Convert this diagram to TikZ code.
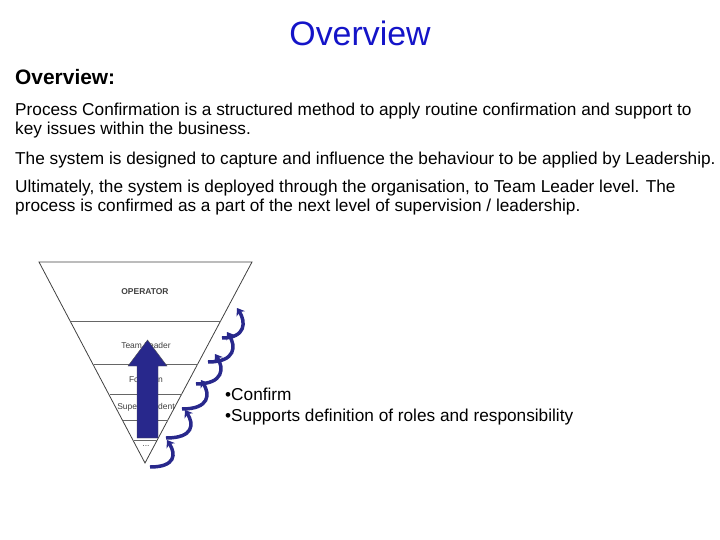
\documentclass[tikz,border=0pt]{standalone}
\usepackage{fontspec}
\setmainfont{Liberation Sans}
\usetikzlibrary{arrows.meta}
\definecolor{navy}{RGB}{40,40,140}
\definecolor{ttl}{RGB}{20,20,200}
\begin{document}
\begin{tikzpicture}[x=1bp,y=-1bp,
  body/.style={anchor=west,inner sep=0pt,font=\fontsize{17.3}{19}\selectfont,align=left},
  lvl/.style={inner sep=0pt,font=\fontsize{8.5}{9}\selectfont,text=black!75},
  curl/.style={navy,line width=3.5pt,-{Stealth[length=7pt,width=10pt]}}]
\useasboundingbox (0,0) rectangle (720,540);
\node[inner sep=0pt,text=ttl,font=\fontsize{34}{36}\selectfont] (title) at (360,33) {Overview};
\node[body,font=\bfseries\fontsize{21}{22}\selectfont] (h) at (15,77) {Overview:};
\node[body,anchor=north west] (p1) at (15,103) {Process Confirmation is a structured method to apply routine confirmation and support to\\key issues within the business.};
\node[body] (p2) at (15,160) {The system is designed to capture and influence the behaviour to be applied by Leadership.};
\node[body,anchor=north west] (p3) at (15,180) {Ultimately, the system is deployed through the organisation, to Team Leader level. The\\process is confirmed as a part of the next level of supervision / leadership.};
% triangle
\draw[thick,black!75] (39,262) -- (252,262) -- (145,463) -- cycle;
\foreach \y/\xl/\xr in {321/71/221, 364/94/198, 394/110/182, 420/123/168, 440/134/157}
  \draw[black!60] (\xl,\y) -- (\xr,\y);
\node[lvl,font=\bfseries\fontsize{8.5}{9}\selectfont] (op) at (145,292) {OPERATOR};
\node[lvl] (tl) at (146,345) {Team Leader};
\node[lvl] (fm) at (146,380) {Foreman};
\node[lvl] (su) at (146,407) {Superintendent};
\node[lvl] (dd) at (146,446) {...};
% big arrow
\fill[navy,draw=black!70] (137,438) -- (158,438) -- (158,366) -- (167,366) -- (147.5,340) -- (128,366) -- (137,366) -- cycle;
% curls
\foreach \a/\b/\c/\d in {150/467/170/440, 166/438/188/410, 182/409/204/380, 196/384/218/354, 208/362/230/332, 222/338/240/308}
  \draw[curl] (\a,\b) .. controls (\c+6,\b) and (\c+6,\d+14) .. (\c-3,\d);
\node[body] (b1) at (225,394) {\textbullet Confirm};
\node[body] (b2) at (225,417) {\textbullet Supports definition of roles and responsibility};
\end{tikzpicture}
\end{document}
